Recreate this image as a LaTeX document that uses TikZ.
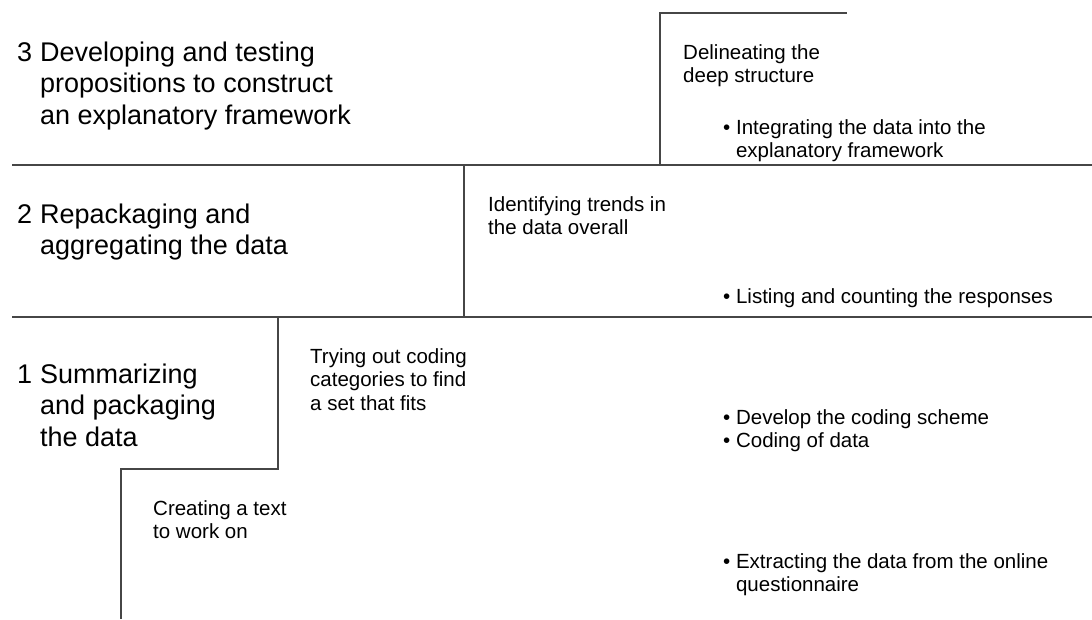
\documentclass[tikz,border=0pt]{standalone}
\usepackage{fontspec}
\setmainfont{Liberation Sans}
\definecolor{ln}{RGB}{70,70,70}
\begin{document}
\begin{tikzpicture}[x=1pt,y=-1pt,
  rule/.style={draw=ln,line width=1.4pt},
  big/.style={anchor=base west,inner sep=0pt,font=\fontsize{27}{31.5}\selectfont},
  small/.style={anchor=base west,inner sep=0pt,font=\fontsize{20.5}{23.5}\selectfont}]
\useasboundingbox (0,0) rectangle (1092,619);
% stair lines
\coordinate (h1l) at (12,165); \coordinate (h1r) at (1092,165);
\coordinate (h2l) at (12,317); \coordinate (h2r) at (1092,317);
\coordinate (s3a) at (660,165); \coordinate (s3b) at (660,13); \coordinate (s3c) at (847,13);
\coordinate (s2a) at (464,165); \coordinate (s2b) at (464,317);
\coordinate (s1a) at (278,317); \coordinate (s1b) at (278,469);
\coordinate (s1c) at (121,469); \coordinate (s1d) at (121,619);
\draw[rule] (h1l) -- (h1r);
\draw[rule] (h2l) -- (h2r);
\draw[rule] (s3a) -- (s3b) -- (s3c);
\draw[rule] (s2a) -- (s2b);
\draw[rule] (s1a) -- (s1b) -- (s1c) -- (s1d);
% level titles
\node[big] (n3) at (17,61) {3};
\node[big] (t3) at (40,61) {\vtop{\hbox{Developing and testing}\hbox{propositions to construct}\hbox{an explanatory framework}}};
\node[big] (n2) at (17,223) {2};
\node[big] (t2) at (40,223) {\vtop{\hbox{Repackaging and}\hbox{aggregating the data}}};
\node[big] (n1) at (17,383) {1};
\node[big] (t1) at (40,383) {\vtop{\hbox{Summarizing}\hbox{and packaging}\hbox{the data}}};
% level 3 texts
\node[small] (d3) at (683,59) {\vtop{\hbox{Delineating the}\hbox{deep structure}}};
\node[small] (b3) at (723,134) {\vtop{\hbox{• Integrating the data into the}\hbox{\phantom{• }explanatory framework}}};
% level 2 texts
\node[small] (i2) at (488,211) {\vtop{\hbox{Identifying trends in}\hbox{the data overall}}};
\node[small] (b2) at (723,303) {• Listing and counting the responses};
% level 1 texts
\node[small] (tr1) at (310,363) {\vtop{\hbox{Trying out coding}\hbox{categories to find}\hbox{a set that fits}}};
\node[small] (cr1) at (153,515) {\vtop{\hbox{Creating a text}\hbox{to work on}}};
\node[small] (b1a) at (723,424) {\vtop{\hbox{• Develop the coding scheme}\hbox{• Coding of data}}};
\node[small] (b1b) at (723,568) {\vtop{\hbox{• Extracting the data from the online}\hbox{\phantom{• }questionnaire}}};
\end{tikzpicture}
\end{document}
